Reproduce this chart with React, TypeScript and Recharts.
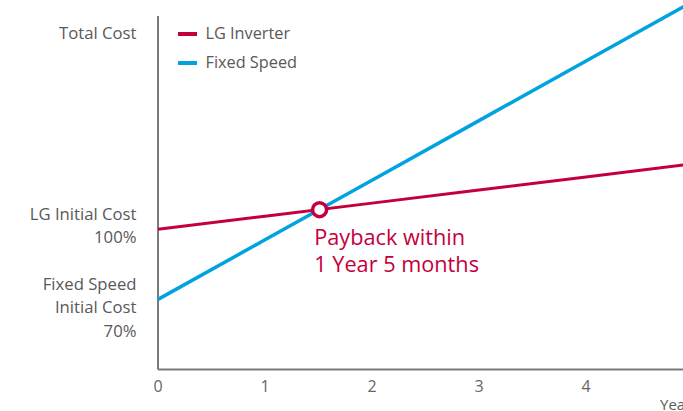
import React from "react";
import { LineChart, Line, XAxis, YAxis, ReferenceLine, ReferenceDot, Legend } from "recharts";

// values (cost index, LG initial = 100)
const years = [0, 1, 2, 3, 4, 5];
const yearTicks = [0, 1, 2, 3, 4];
const lgInverter = [100, 105.6, 111.2, 116.8, 122.4, 128.0];
const fixedSpeed = [70, 95.5, 121, 146.5, 172, 197.5];

const seriesNames = ["LG Inverter", "Fixed Speed"];

const yTickValues = [70, 100, 184];
const yTickLabels = [
  ["Fixed Speed", "Initial Cost", "70%"],
  ["LG Initial Cost", "100%"],
  ["Total Cost"],
];

const payback = { year: 1.51, cost: 108.4 };
const paybackText = ["Payback within", "1 Year 5 months"];

const RED = "#c4003c";
const BLUE = "#00a3e0";
const GRAY = "#7a7a7a";
const TEXT = "#595959";
const FONT = "'Open Sans', sans-serif";

const data = years.map((y, i) => ({ year: y, lg: lgInverter[i], fixed: fixedSpeed[i] }));

function CostTick(props: any) {
  const { x, y, payload } = props;
  const idx = yTickValues.indexOf(payload.value);
  const lines = yTickLabels[idx] || [];
  const start = lines.length > 1 ? y - 15.5 : y;
  return (
    <g>
      {lines.map((t, i) => (
        <text key={i} x={x} y={start + i * 23.5} dy="0.35em" textAnchor="end" fill={TEXT} fontSize={16.7} fontFamily={FONT}>
          {t}
        </text>
      ))}
    </g>
  );
}

function LegendContent(props: any) {
  const { payload = [] } = props;
  // keep the order of the series, not alphabetical
  const items = [...payload].sort((a: any, b: any) => seriesNames.indexOf(a.value) - seriesNames.indexOf(b.value));
  return (
    <div style={{ fontFamily: FONT }}>
      {items.map((p: any) => (
        <div key={p.value} style={{ display: "flex", alignItems: "center", height: 29 }}>
          <span style={{ width: 18.5, height: 4, background: p.color, marginRight: 9 }} />
          <span style={{ fontSize: 16.3, color: TEXT, lineHeight: 1 }}>{p.value}</span>
        </div>
      ))}
    </div>
  );
}

function PaybackLabel(props: any) {
  const vb = props.viewBox || {};
  const cx = vb.x + vb.width / 2;
  const cy = vb.y + vb.height / 2;
  return (
    <g>
      {paybackText.map((t, i) => (
        <text key={i} x={cx - 5.3} y={cy + 35 + i * 27} fill={RED} fontSize={21.7} fontFamily={FONT}>
          {t}
        </text>
      ))}
    </g>
  );
}

function YearsLabel(props: any) {
  const vb = props.viewBox || {};
  return (
    <text x={vb.x + vb.width - 33} y={vb.y + 40} fill={TEXT} fontSize={15} fontFamily={FONT}>
      Years
    </text>
  );
}

export default function App() {
  return (
    <div style={{ position: "fixed", left: 0, top: 0, width: 683, height: 411, overflow: "hidden", background: "#fff", fontFamily: FONT }}>
      <div style={{ position: "absolute", left: 0, top: -20 }}>
        <LineChart width={740} height={440} data={data} margin={{ top: 15.6, right: 47, bottom: 20.5, left: 0 }}>
          <XAxis
            dataKey="year"
            type="number"
            domain={[0, 5]}
            ticks={yearTicks}
            interval={0}
            height={30}
            axisLine={{ stroke: GRAY, strokeWidth: 2 }}
            tickLine={false}
            tickMargin={5}
            tick={{ fill: "#666", fontSize: 16, fontFamily: FONT }}
            label={{ content: YearsLabel }}
          />
          <YAxis
            type="number"
            domain={[40, 200]}
            ticks={yTickValues}
            interval={0}
            width={158}
            axisLine={false}
            tickLine={false}
            tickMargin={15.5}
            tick={<CostTick />}
          />
          <ReferenceLine segment={[{ x: 0, y: 40 }, { x: 0, y: 191.3 }]} stroke={GRAY} strokeWidth={2} />
          <Legend
            layout="vertical"
            align="center"
            verticalAlign="middle"
            wrapperStyle={{ left: 178, top: 39, width: 200 }}
            content={LegendContent}
          />
          <Line type="linear" dataKey="lg" name="LG Inverter" stroke={RED} strokeWidth={3} dot={false} isAnimationActive={false} />
          <Line type="linear" dataKey="fixed" name="Fixed Speed" stroke={BLUE} strokeWidth={3.5} dot={false} isAnimationActive={false} />
          <ReferenceDot
            x={payback.year}
            y={payback.cost}
            r={7}
            fill="#fff"
            stroke={RED}
            strokeWidth={3.5}
            label={{ content: PaybackLabel }}
          />
        </LineChart>
      </div>
    </div>
  );
}
